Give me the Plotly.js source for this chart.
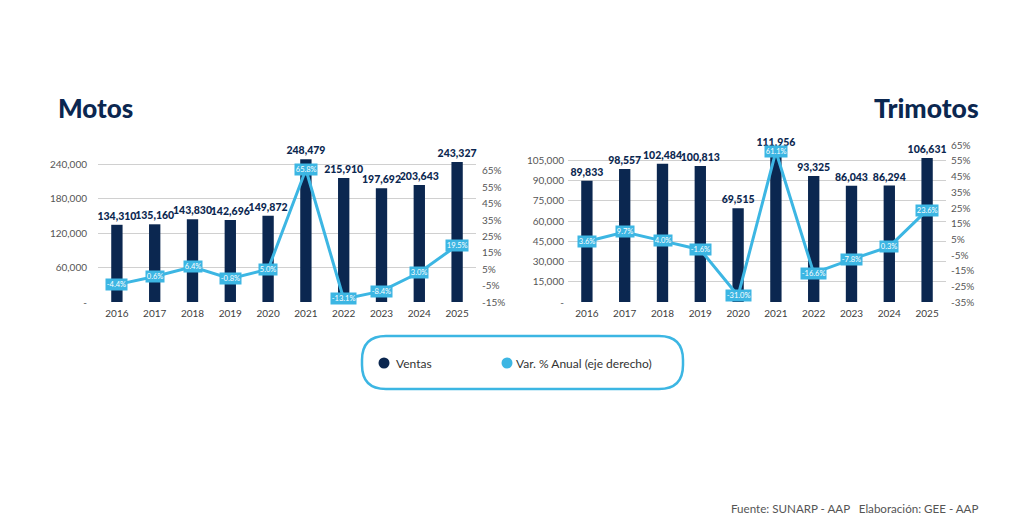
<!DOCTYPE html>
<html>
<head>
<meta charset="utf-8">
<script src="https://cdn.plot.ly/plotly-3.0.1.min.js"></script>
<style>
  body { margin: 0; background: #fff; }
  #chart { width: 1024px; height: 532px; }
</style>
</head>
<body>
<div id="chart"></div>
<script>
// datos
const years = ['2016', '2017', '2018', '2019', '2020', '2021', '2022', '2023', '2024', '2025']
const motosVentas = [134310, 135160, 143830, 142696, 149872, 248479, 215910, 197692, 203643, 243327]
const motosVar = [-4.4, 0.6, 6.4, -0.8, 5.0, 65.8, -13.1, -8.4, 3.0, 19.5]
const trimotosVentas = [89833, 98557, 102484, 100813, 69515, 111956, 93325, 86043, 86294, 106631]
const trimotosVar = [3.6, 9.7, 4.0, -1.6, -31.0, 61.1, -16.6, -7.8, 0.3, 23.6]

const motosTicks = [0, 60000, 120000, 180000, 240000]
const motosTickText = ['-', '60,000', '120,000', '180,000', '240,000']
const motosPctTicks = [-15, -5, 5, 15, 25, 35, 45, 55, 65]
const trimotosTicks = [0, 15000, 30000, 45000, 60000, 75000, 90000, 105000]
const trimotosTickText = ['-', '15,000', '30,000', '45,000', '60,000', '75,000', '90,000', '105,000']
const trimotosPctTicks = [-35, -25, -15, -5, 5, 15, 25, 35, 45, 55, 65]

const NAVY = '#0b2750'
const CYAN = '#3cb6e3'
const GRAY = '#555555'

// pixel -> paper
const W = 1024, H = 532
const px = x => x / W
const py = y => 1 - y / H

function pctText(v) {
  return v.toFixed(1) + '%'
}

function barTrace(ventas, xa, ya) {
  return {
    type: 'bar', x: years, y: ventas, xaxis: xa, yaxis: ya,
    marker: { color: NAVY }, width: 0.3,
    text: ventas.map(v => v.toLocaleString('en-US')),
    textposition: 'outside', cliponaxis: false, constraintext: 'none',
    textfont: { family: 'Lato, sans-serif', size: 10.5, color: NAVY, weight: 900 },
    hoverinfo: 'skip'
  }
}

function lineTrace(vars, xa, ya) {
  return {
    type: 'scatter', mode: 'lines', x: years, y: vars, xaxis: xa, yaxis: ya,
    line: { color: CYAN, width: 3 }, cliponaxis: false, hoverinfo: 'skip'
  }
}

// etiquetas de % sobre la linea (x por indice de categoria)
function pctLabels(vars, xa, ya) {
  return vars.map((v, i) => ({
    x: i, y: v, xref: xa, yref: ya, showarrow: false,
    text: pctText(v), bgcolor: CYAN, borderpad: 0.8,
    font: { family: 'Lato, sans-serif', size: 7.5, color: '#ffffff' }
  }))
}

const tickFontY = { family: '"Liberation Sans Narrow", Lato, sans-serif', size: 10, color: GRAY }
const tickFontX = { family: 'Lato, sans-serif', size: 10, color: '#404040' }

const data = [
  barTrace(motosVentas, 'x', 'y'),
  lineTrace(motosVar, 'x', 'y2'),
  barTrace(trimotosVentas, 'x2', 'y3'),
  lineTrace(trimotosVar, 'x2', 'y4')
]

const yDomL = [py(302), py(150)]
const yDomR = [py(302), py(140)]
const catRange = [-0.5, years.length - 0.5]

// borde redondeado de la leyenda
const L = 362, R = 683, T = 336, B = 389, r = 24
const legendPath =
  'M' + px(L + r) + ',' + py(T) +
  ' L' + px(R - r) + ',' + py(T) +
  ' Q' + px(R) + ',' + py(T) + ' ' + px(R) + ',' + py(T + r) +
  ' L' + px(R) + ',' + py(B - r) +
  ' Q' + px(R) + ',' + py(B) + ' ' + px(R - r) + ',' + py(B) +
  ' L' + px(L + r) + ',' + py(B) +
  ' Q' + px(L) + ',' + py(B) + ' ' + px(L) + ',' + py(B - r) +
  ' L' + px(L) + ',' + py(T + r) +
  ' Q' + px(L) + ',' + py(T) + ' ' + px(L + r) + ',' + py(T) + ' Z'

function dot(cx, cy, rad, color) {
  return {
    type: 'circle', xref: 'paper', yref: 'paper',
    x0: px(cx - rad), x1: px(cx + rad), y0: py(cy + rad), y1: py(cy - rad),
    fillcolor: color, line: { width: 0 }
  }
}

const layout = {
  width: W, height: H,
  margin: { l: 0, r: 0, t: 0, b: 0 },
  paper_bgcolor: '#ffffff', plot_bgcolor: 'rgba(0,0,0,0)',
  showlegend: false,
  xaxis: {
    domain: [px(98), px(476)], anchor: 'y', type: 'category', range: catRange,
    showgrid: false, zeroline: false, showline: false, ticks: '',
    tickfont: tickFontX, ticklabelstandoff: 4
  },
  yaxis: {
    domain: yDomL, anchor: 'x', range: [0, 264400],
    tickvals: motosTicks, ticktext: motosTickText,
    showgrid: true, gridcolor: '#d0d0d0', gridwidth: 1, zeroline: false,
    tickfont: tickFontY, ticklabelstandoff: 10
  },
  yaxis2: {
    domain: yDomL, anchor: 'x', overlaying: 'y', side: 'right', range: [-15, 77.7],
    tickvals: motosPctTicks, ticktext: motosPctTicks.map(v => v + '%'),
    showgrid: false, zeroline: false, tickfont: tickFontY, ticklabelstandoff: 5
  },
  xaxis2: {
    domain: [px(568), px(946)], anchor: 'y3', type: 'category', range: catRange,
    showgrid: false, zeroline: false, showline: false, ticks: '',
    tickfont: tickFontX, ticklabelstandoff: 4
  },
  yaxis3: {
    domain: yDomR, anchor: 'x2', range: [0, 120000],
    tickvals: trimotosTicks, ticktext: trimotosTickText,
    showgrid: true, gridcolor: '#d0d0d0', gridwidth: 1, zeroline: false,
    tickfont: tickFontY, ticklabelstandoff: 3
  },
  yaxis4: {
    domain: yDomR, anchor: 'x2', overlaying: 'y3', side: 'right', range: [-35, 68.4],
    tickvals: trimotosPctTicks, ticktext: trimotosPctTicks.map(v => v + '%'),
    showgrid: false, zeroline: false, tickfont: tickFontY, ticklabelstandoff: 4
  },
  shapes: [
    { type: 'path', xref: 'paper', yref: 'paper', path: legendPath,
      line: { color: CYAN, width: 2.5 }, fillcolor: 'rgba(0,0,0,0)' },
    dot(384, 363, 5.5, NAVY),
    dot(507, 363, 5.5, CYAN)
  ],
  annotations: [
    ...pctLabels(motosVar, 'x', 'y2'),
    ...pctLabels(trimotosVar, 'x2', 'y4'),
    { xref: 'paper', yref: 'paper', x: px(56), y: py(108), xanchor: 'left', yanchor: 'middle',
      showarrow: false, text: 'Motos',
      font: { family: 'Lato, sans-serif', size: 26, color: NAVY, weight: 900 } },
    { xref: 'paper', yref: 'paper', x: px(981), y: py(108), xanchor: 'right', yanchor: 'middle',
      showarrow: false, text: 'Trimotos',
      font: { family: 'Lato, sans-serif', size: 26.5, color: NAVY, weight: 900 } },
    { xref: 'paper', yref: 'paper', x: px(394), y: py(363), xanchor: 'left', yanchor: 'middle',
      showarrow: false, text: 'Ventas',
      font: { family: 'Lato, sans-serif', size: 12, color: '#333333' } },
    { xref: 'paper', yref: 'paper', x: px(514), y: py(363), xanchor: 'left', yanchor: 'middle',
      showarrow: false, text: 'Var. % Anual (eje derecho)',
      font: { family: 'Lato, sans-serif', size: 12, color: '#333333' } },
    { xref: 'paper', yref: 'paper', x: px(980), y: py(508), xanchor: 'right', yanchor: 'middle',
      showarrow: false, text: 'Fuente: SUNARP - AAP&nbsp;&nbsp;&nbsp;Elaboración: GEE - AAP',
      font: { family: 'Lato, sans-serif', size: 11.6, color: '#555555' } }
  ]
}

Plotly.newPlot('chart', data, layout, { staticPlot: true, displayModeBar: false })
</script>
</body>
</html>
